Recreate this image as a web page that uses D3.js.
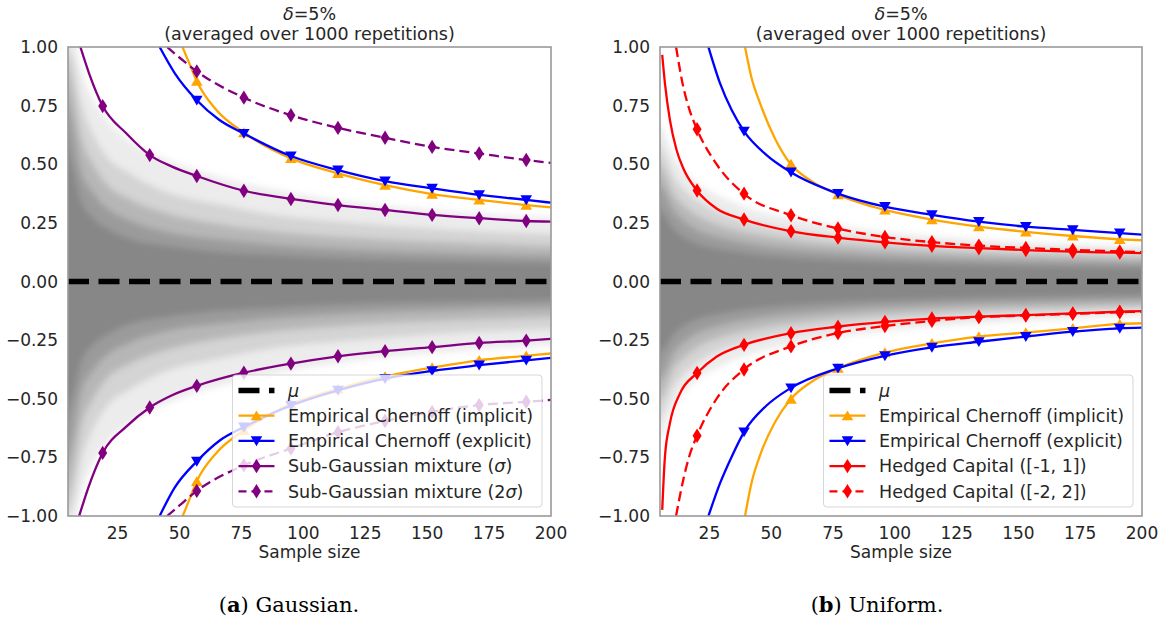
<!DOCTYPE html>
<html>
<head>
<meta charset="utf-8">
<script src="https://cdnjs.cloudflare.com/ajax/libs/d3/7.8.5/d3.min.js"></script>
<style>
body { margin: 0; background: #fff; }
svg text { font-family: "DejaVu Sans", sans-serif; fill: #262626; }
</style>
</head>
<body>
<svg id="fig" width="1166" height="621">
  <defs>
    <filter id="soft" x="-5%" y="-5%" width="110%" height="110%">
      <feGaussianBlur stdDeviation="3"/>
    </filter>
  </defs>
</svg>
<script>
// axis ticks
const xTicks = [25, 50, 75, 100, 125, 150, 175, 200]
const yTicks = [1, 0.75, 0.5, 0.25, 0, -0.25, -0.5, -0.75, -1]
const mu = 0

// sample sizes that carry a marker
const gaussMarks = [19, 38, 57, 76, 95, 114, 133, 152, 171, 190]
const unifMarks = [20, 39, 58, 77, 96, 115, 134, 153, 172, 191]

// spread of the 1000 running means (half widths)
const bandN = [5, 7, 10, 15, 20, 30, 45, 65, 90, 120, 160, 200]
const gaussBand1 = [1.0, 1.0, 0.92, 0.78, 0.7, 0.6, 0.52, 0.45, 0.39, 0.34, 0.3, 0.27]
const gaussBand2 = [1.0, 0.95, 0.78, 0.63, 0.54, 0.46, 0.38, 0.33, 0.28, 0.25, 0.22, 0.2]
const gaussBand3 = [1.0, 0.82, 0.63, 0.5, 0.42, 0.35, 0.29, 0.245, 0.21, 0.185, 0.165, 0.15]
const gaussBand4 = [0.95, 0.66, 0.48, 0.38, 0.32, 0.26, 0.21, 0.18, 0.155, 0.135, 0.12, 0.108]
const gaussBand5 = [0.75, 0.48, 0.35, 0.27, 0.23, 0.18, 0.15, 0.125, 0.11, 0.095, 0.085, 0.076]
const unifBand1 = [0.72, 0.63, 0.55, 0.47, 0.42, 0.36, 0.3, 0.26, 0.22, 0.19, 0.165, 0.148]
const unifBand2 = [0.63, 0.54, 0.46, 0.39, 0.345, 0.29, 0.245, 0.21, 0.18, 0.157, 0.137, 0.122]
const unifBand3 = [0.55, 0.46, 0.38, 0.32, 0.28, 0.235, 0.198, 0.168, 0.145, 0.127, 0.112, 0.1]
const unifBand4 = [0.46, 0.38, 0.31, 0.255, 0.22, 0.185, 0.155, 0.132, 0.113, 0.099, 0.088, 0.079]
const unifBand5 = [0.34, 0.28, 0.23, 0.185, 0.16, 0.135, 0.112, 0.095, 0.082, 0.072, 0.064, 0.057]

// confidence bounds, [sample size, value]
const gaussImplUp = [[51.2, 1.0], [54, 0.93], [57, 0.854], [65, 0.73], [76, 0.635], [95, 0.525], [114, 0.461], [133, 0.411], [152, 0.373], [171, 0.348], [190, 0.326], [200, 0.316]]
const gaussImplLo = [[51.3, -1.0], [54, -0.93], [57, -0.852], [65, -0.73], [76, -0.635], [95, -0.523], [114, -0.458], [133, -0.405], [152, -0.367], [171, -0.336], [190, -0.317], [200, -0.307]]
const gaussExplUp = [[42, 1.0], [48, 0.89], [57, 0.773], [66, 0.69], [76, 0.631], [95, 0.535], [114, 0.475], [133, 0.428], [152, 0.397], [171, 0.369], [190, 0.348], [200, 0.336]]
const gaussExplLo = [[42, -1.0], [48, -0.88], [57, -0.767], [66, -0.68], [76, -0.621], [95, -0.529], [114, -0.464], [133, -0.414], [152, -0.381], [171, -0.357], [190, -0.336], [200, -0.326]]
const gaussSubUp = [[10, 1.0], [13.5, 0.888], [19, 0.748], [28.4, 0.633], [38, 0.539], [47, 0.49], [57, 0.45], [76, 0.387], [95, 0.352], [114, 0.326], [133, 0.305], [152, 0.284], [171, 0.27], [190, 0.258], [200, 0.255]]
const gaussSubLo = [[9.5, -1.0], [13.5, -0.87], [19, -0.731], [28.4, -0.62], [38, -0.537], [47, -0.485], [57, -0.445], [76, -0.389], [95, -0.35], [114, -0.319], [133, -0.297], [152, -0.28], [171, -0.262], [190, -0.252], [200, -0.245]]
const gaussSub2Up = [[45, 1.0], [50, 0.955], [57, 0.896], [76, 0.784], [95, 0.709], [114, 0.655], [133, 0.613], [152, 0.574], [171, 0.546], [190, 0.518], [200, 0.506]]
const gaussSub2Lo = [[45, -1.0], [50, -0.955], [57, -0.893], [76, -0.784], [95, -0.712], [114, -0.643], [133, -0.595], [152, -0.556], [171, -0.527], [190, -0.513], [200, -0.505]]

const unifImplUp = [[39.4, 1.0], [42, 0.87], [45.5, 0.76], [51.5, 0.61], [57.6, 0.504], [66, 0.43], [77, 0.37], [96, 0.305], [115, 0.264], [134, 0.234], [153, 0.212], [172, 0.194], [191, 0.18], [200, 0.176]]
const unifImplLo = [[39.4, -1.0], [42, -0.86], [45.5, -0.74], [51.5, -0.6], [57.6, -0.505], [66, -0.43], [77, -0.37], [96, -0.303], [115, -0.264], [134, -0.235], [153, -0.218], [172, -0.2], [191, -0.181], [200, -0.178]]
const unifExplUp = [[24.6, 1.0], [29.3, 0.845], [34, 0.731], [39.1, 0.639], [48, 0.54], [57.6, 0.468], [77, 0.375], [96, 0.319], [115, 0.284], [134, 0.255], [153, 0.234], [172, 0.22], [191, 0.206], [200, 0.2]]
const unifExplLo = [[24.6, -1.0], [29.3, -0.86], [34, -0.747], [39.1, -0.64], [48, -0.53], [57.6, -0.456], [77, -0.37], [96, -0.317], [115, -0.281], [134, -0.257], [153, -0.235], [172, -0.214], [191, -0.2], [200, -0.197]]
const unifHc1Up = [[5.9, 0.966], [7, 0.845], [9, 0.689], [11.7, 0.561], [14.4, 0.483], [19.8, 0.39], [28, 0.31], [38.7, 0.265], [57.6, 0.215], [77, 0.187], [96, 0.167], [115, 0.152], [134, 0.142], [153, 0.134], [172, 0.127], [191, 0.123], [200, 0.121]]
const unifHc1Lo = [[5.9, -0.974], [6.3, -0.88], [7, -0.747], [9, -0.605], [13.1, -0.477], [19.8, -0.392], [28, -0.32], [38.7, -0.271], [57.6, -0.221], [76.5, -0.193], [96, -0.172], [115, -0.158], [134, -0.15], [153, -0.143], [172, -0.136], [191, -0.129], [200, -0.126]]
const unifHc2Up = [[11.5, 1.0], [14.4, 0.831], [17, 0.73], [19.8, 0.653], [27.9, 0.5], [38.7, 0.376], [57.6, 0.284], [76.5, 0.227], [96, 0.19], [115, 0.168], [134, 0.153], [153, 0.143], [172, 0.135], [191, 0.128], [200, 0.125]]
const unifHc2Lo = [[11.5, -1.0], [14.4, -0.846], [17, -0.74], [19.8, -0.662], [27.9, -0.5], [38.7, -0.377], [57.6, -0.278], [76.5, -0.221], [96, -0.19], [115, -0.168], [134, -0.152], [153, -0.145], [172, -0.138], [191, -0.131], [200, -0.128]]

const markerPaths = {
    up: 'M0,-5.3 L5.8,4.6 L-5.8,4.6 Z',
    down: 'M0,5.3 L5.8,-4.6 L-5.8,-4.6 Z',
    diamond: 'M0,-7.2 L4.5,0 L0,7.2 L-4.5,0 Z'
}

function Panel(config){
    var top = 47, bottom = 516,
        left = config.left, right = config.right,
        svg = d3.select('#fig').append('g'),
        id = config.id

    var x = d3.scaleLinear().domain([5, 200]).range([left, right])
    var y = d3.scaleLinear().domain([-1, 1]).range([bottom, top])

    const line = d3.line().x(d => x(d[0])).y(d => y(d[1])).curve(d3.curveMonotoneX)

    svg.append('clipPath').attr('id', 'clip-' + id)
        .append('rect').attr('x', left).attr('y', top)
        .attr('width', right - left).attr('height', bottom - top)

    var plot = svg.append('g').attr('clip-path', 'url(#clip-' + id + ')')

    // gray cloud, widest band first; ends pushed past the frame so the blur stays inside
    const area = d3.area()
        .x((d, i) => i === 0 ? x(bandN[0]) - 15 : (i === bandN.length - 1 ? x(bandN[i]) + 15 : x(bandN[i])))
        .y0(d => y(-d) + (d >= 1 ? 15 : 0)).y1(d => y(d) - (d >= 1 ? 15 : 0))
        .curve(d3.curveMonotoneX)
    const bandAlpha = [0.15, 0.24, 0.34, 0.5, 0.72]
    var cloud = plot.append('g').attr('filter', 'url(#soft)')
    config.bands.forEach((b, i) => {
        cloud.append('path').attr('d', area(b))
            .attr('fill', '#808080').attr('fill-opacity', bandAlpha[i])
    })

    plot.append('line')
        .attr('x1', left).attr('x2', right)
        .attr('y1', y(mu)).attr('y2', y(mu))
        .attr('stroke', '#000').attr('stroke-width', 5.5)
        .attr('stroke-dasharray', '21,9.5')

    config.series.forEach(s => {
        s.data.forEach(pts => {
            plot.append('path').attr('d', line(pts))
                .attr('fill', 'none').attr('stroke', s.color).attr('stroke-width', 2.3)
                .attr('stroke-dasharray', s.dash ? '10,5' : null)
            var interp = d3.scaleLinear().domain(pts.map(p => p[0])).range(pts.map(p => p[1]))
            config.marks.forEach(n => {
                if (n < pts[0][0] || n > pts[pts.length - 1][0]) return
                var v = interp(n)
                if (v > 1 || v < -1) return
                plot.append('path').attr('d', markerPaths[s.marker])
                    .attr('transform', 'translate(' + x(n) + ',' + y(v) + ')')
                    .attr('fill', s.color)
            })
        })
    })

    svg.append('rect')
        .attr('x', left).attr('y', top)
        .attr('width', right - left).attr('height', bottom - top)
        .attr('fill', 'none').attr('stroke', '#999').attr('stroke-width', 1.6)

    // ticks: labels only, no tick marks
    svg.selectAll('.ytick').data(yTicks).enter().append('text')
        .attr('x', left - 10).attr('y', d => y(d)).attr('dy', '0.36em')
        .attr('text-anchor', 'end').attr('font-size', 17)
        .text(d3.format('.2f'))

    svg.selectAll('.xtick').data(xTicks).enter().append('text')
        .attr('x', d => x(d)).attr('y', 538.5)
        .attr('text-anchor', 'middle').attr('font-size', 17)
        .text(d => d)

    svg.append('text').attr('x', (left + right) / 2).attr('y', 558)
        .attr('text-anchor', 'middle').attr('font-size', 17).text('Sample size')

    var title = svg.append('text').attr('x', (left + right) / 2).attr('y', 19.5)
        .attr('text-anchor', 'middle').attr('font-size', 17.5)
    title.append('tspan').attr('font-style', 'italic').text('δ')
    title.append('tspan').text('=5%')
    svg.append('text').attr('x', (left + right) / 2).attr('y', 40)
        .attr('text-anchor', 'middle').attr('font-size', 17.5)
        .text('(averaged over 1000 repetitions)')

    var cap = svg.append('text').attr('x', config.capX).attr('y', 612)
        .attr('text-anchor', 'middle').attr('font-size', 21)
        .style('font-family', '"DejaVu Serif", serif').style('fill', '#000')
    cap.append('tspan').text('(')
    cap.append('tspan').attr('font-weight', 'bold').text(config.capTag)
    cap.append('tspan').text(') ' + config.capText)

    drawLegend(svg, config, right)
}

function drawLegend(svg, config, right){
    var g = svg.append('g')
    var box = g.append('rect').attr('rx', 3.5).attr('ry', 3.5)
        .attr('fill', '#fff').attr('fill-opacity', 0.8)
        .attr('stroke', '#ccc').attr('stroke-opacity', 0.8).attr('stroke-width', 1)

    var rows = [{label: [['μ', true]], mean: true}].concat(config.series)
    var top = 375, rowH = 25.2, texts = []

    var items = g.selectAll('.row').data(rows).enter().append('g')

    items.each(function(d){
        var it = d3.select(this)
        var h = it.append('g')
        if (d.mean) {
            h.append('line').attr('x1', 6).attr('x2', 42)
                .attr('stroke', '#000').attr('stroke-width', 5.5).attr('stroke-dasharray', '21,9.5')
        } else {
            h.append('line').attr('x1', 6).attr('x2', 42)
                .attr('stroke', d.color).attr('stroke-width', 2.3)
                .attr('stroke-dasharray', d.dash ? '8,5' : null)
            h.append('path').attr('d', markerPaths[d.marker])
                .attr('transform', 'translate(24,0)').attr('fill', d.color)
        }
        var t = it.append('text').attr('x', 55.5).attr('dy', '0.36em').attr('font-size', 17.5)
        d.label.forEach(p => t.append('tspan').attr('font-style', p[1] ? 'italic' : null).text(p[0]))
        texts.push(t)
    })

    var w = d3.max(texts, t => t.node().getComputedTextLength()) + 55.5 + 9
    var h = rows.length * rowH + 6
    var left = right - 9 - w
    box.attr('x', left).attr('y', top).attr('width', w).attr('height', h)
    items.attr('transform', (d, i) => 'translate(' + left + ',' + (top + 15.5 + i * rowH) + ')')
}

Panel({
    id: 'gauss', left: 68, right: 551, capX: 289, capTag: 'a', capText: 'Gaussian.',
    marks: gaussMarks,
    bands: [gaussBand1, gaussBand2, gaussBand3, gaussBand4, gaussBand5],
    series: [
        {label: [['Empirical Chernoff (implicit)']], color: 'orange', marker: 'up', data: [gaussImplUp, gaussImplLo]},
        {label: [['Empirical Chernoff (explicit)']], color: 'blue', marker: 'down', data: [gaussExplUp, gaussExplLo]},
        {label: [['Sub-Gaussian mixture ('], ['σ', true], [')']], color: 'purple', marker: 'diamond', data: [gaussSubUp, gaussSubLo]},
        {label: [['Sub-Gaussian mixture (2'], ['σ', true], [')']], color: 'purple', marker: 'diamond', dash: true, data: [gaussSub2Up, gaussSub2Lo]}
    ]
})

Panel({
    id: 'unif', left: 660, right: 1142, capX: 877, capTag: 'b', capText: 'Uniform.',
    marks: unifMarks,
    bands: [unifBand1, unifBand2, unifBand3, unifBand4, unifBand5],
    series: [
        {label: [['Empirical Chernoff (implicit)']], color: 'orange', marker: 'up', data: [unifImplUp, unifImplLo]},
        {label: [['Empirical Chernoff (explicit)']], color: 'blue', marker: 'down', data: [unifExplUp, unifExplLo]},
        {label: [['Hedged Capital ([-1, 1])']], color: 'red', marker: 'diamond', data: [unifHc1Up, unifHc1Lo]},
        {label: [['Hedged Capital ([-2, 2])']], color: 'red', marker: 'diamond', dash: true, data: [unifHc2Up, unifHc2Lo]}
    ]
})
</script>
</body>
</html>
